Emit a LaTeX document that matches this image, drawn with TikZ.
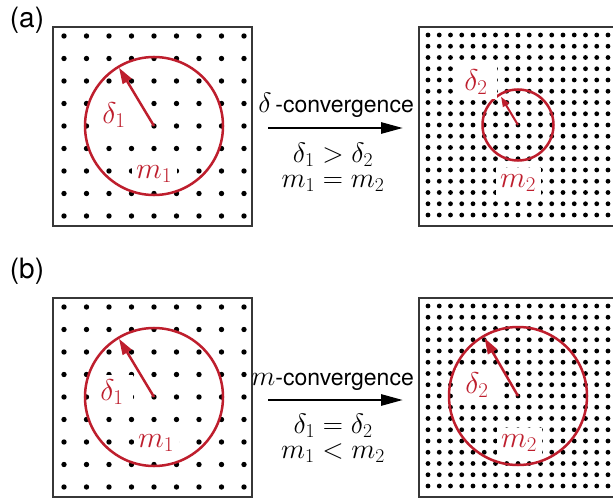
\RequirePackage{fix-cm}
\documentclass[tikz,border=0pt]{standalone}
\usepackage{amsmath}
\usepackage{fontspec}
\setsansfont{TeX Gyre Heros}
\usepackage{tikz}
\usetikzlibrary{positioning, arrows.meta}
\usepackage{xcolor}
\definecolor{ringred}{RGB}{190,30,45}
\definecolor{framegray}{RGB}{55,55,55}

\begin{document}
\begin{tikzpicture}[x=1pt, y=-1pt,
    frame/.style={draw=framegray, line width=1.4pt},
    ring/.style={draw=ringred, line width=2.5pt},
    radarrow/.style={draw=ringred, line width=2.5pt, -{Triangle[length=16pt, width=10pt]}},
    smallradarrow/.style={draw=ringred, line width=2pt, -{Triangle[length=10pt, width=7pt]}},
    redlabel/.style={text=ringred, fill=white, inner sep=0pt, font=\fontsize{30}{34}\selectfont},
    dlabel/.style={redlabel, minimum width=42pt, minimum height=34pt},
    mlabel/.style={redlabel, minimum width=45pt, minimum height=30pt},
    eqlines/.style={anchor=north, align=center, inner sep=0pt, font=\fontsize{28}{25}\selectfont},
    convtext/.style={anchor=base east, inner sep=0pt, font=\fontsize{23}{27}\selectfont},
    conv/.style={line width=2.8pt, -{Triangle[length=22pt, width=11pt]}},
    tag/.style={font=\sffamily\fontsize{28}{32}\selectfont}]
    \useasboundingbox (0,0) rectangle (613,500);

    % Panel tags
    \node[tag] (taga) at (27,20)  {(a)};
    \node[tag] (tagb) at (27,271) {(b)};

    % Lattices and frames, row (a) and row (b)
    \foreach \dy in {0,271} {
        \foreach \i in {0,...,8}
            \foreach \j in {0,...,8}
                \fill (64+22.5*\i, 36+\dy+22.5*\j) circle (2.7pt);
        \foreach \i in {0,...,16}
            \foreach \j in {0,...,16}
                \fill (428+11.25*\i, 35+\dy+11.25*\j) circle (2.4pt);
        \draw[frame] (53,27+\dy) rectangle (252,226+\dy);
        \draw[frame] (419,27+\dy) rectangle (618,226+\dy);
    }

    % Circle centres
    \coordinate (ca) at (154,126);
    \coordinate (ra) at (518,125);
    \coordinate (cb) at (154,397);
    \coordinate (rb) at (518,396);

    % Circles
    \draw[ring] (ca) circle[radius=69pt];
    \draw[ring] (ra) circle[radius=35.5pt];
    \draw[ring] (cb) circle[radius=69pt];
    \draw[ring] (rb) circle[radius=69pt];

    % Radii
    \path (ca) ++(-121:68) coordinate (tipca);
    \path (ra) ++(-121:33) coordinate (tipra);
    \path (cb) ++(-121:68) coordinate (tipcb);
    \path (rb) ++(-120:67) coordinate (tiprb);
    \draw[radarrow] (ca) -- (tipca);
    \draw[smallradarrow] (ra) -- (tipra);
    \draw[radarrow] (cb) -- (tipcb);
    \draw[radarrow] (rb) -- (tiprb);

    % Red labels
    \node[dlabel] (dca) at (114,115) {$\delta_1$};
    \node[mlabel] (mca) at (154,174) {$m_1$};
    \node[dlabel] (dra) at (476,82)  {$\delta_2$};
    \node[mlabel] (mra) at (518,183) {$m_2$};
    \node[dlabel] (dcb) at (112,392) {$\delta_1$};
    \node[mlabel] (mcb) at (156,443) {$m_1$};
    \node[dlabel] (drb) at (477,385) {$\delta_2$};
    \node[mlabel] (mrb) at (519,443) {$m_2$};

    % Convergence arrows
    \coordinate (sa) at (268,128);
    \coordinate (ea) at (403,128);
    \coordinate (sb) at (268,400);
    \coordinate (eb) at (403,400);
    \draw[conv] (sa) -- (ea);
    \draw[conv] (sb) -- (eb);

    \node[convtext] (conva) at (414,113) {{\fontsize{28}{32}\selectfont$\delta$}\,\textsf{-convergence}};
    \node[eqlines] (eqa) at (333,143) {$\delta_1 > \delta_2$\\$m_1 = m_2$};

    \node[convtext] (convb) at (414,385) {{\fontsize{28}{32}\selectfont$m$}\textsf{-convergence}};
    \node[eqlines] (eqb) at (333,414) {$\delta_1 = \delta_2$\\$m_1 < m_2$};
\end{tikzpicture}
\end{document}
